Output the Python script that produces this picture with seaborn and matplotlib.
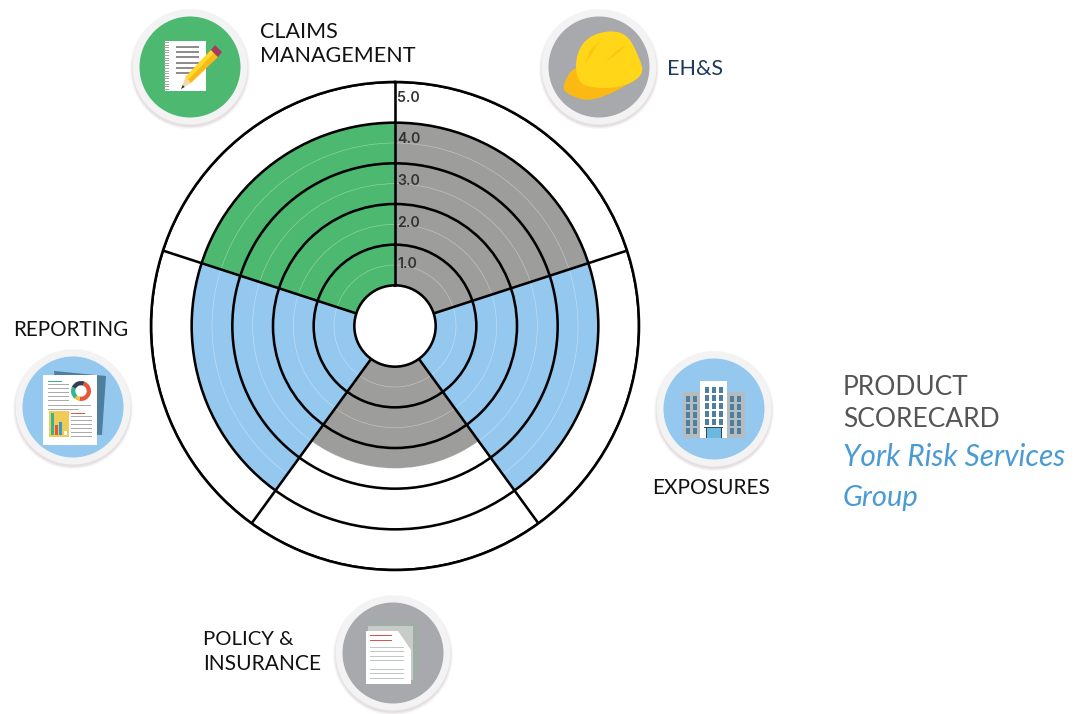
import numpy as np
import pandas as pd
import seaborn as sns
import matplotlib.pyplot as plt
from matplotlib.patches import Circle, Rectangle, Polygon, Wedge, PathPatch
from matplotlib.path import Path

# Data
sectors = ['EH&S', 'EXPOSURES', 'POLICY & INSURANCE', 'REPORTING', 'CLAIMS MANAGEMENT']
scores = [4.0, 4.0, 2.5, 4.0, 4.0]
sector_colors = ['#9D9D9C', '#95C8EE', '#9D9D9C', '#95C8EE', '#4DB86F']
ring_values = [1, 2, 3, 4, 5]
half_values = [0.5, 1.5, 2.5, 3.5]
ring_labels = ['1.0', '2.0', '3.0', '4.0', '5.0']

sns.set_theme(style='white')
plt.rcParams['font.family'] = ['Lato', 'DejaVu Sans']

W, H = 1085, 714
fig = plt.figure(figsize=(W / 100, H / 100), dpi=100)

# Polar chart: centre (395, 326), outer radius 244 px
ax = fig.add_axes([151 / W, (H - 570) / H, 488 / W, 488 / H], projection='polar')
step = 2 * np.pi / len(sectors)
df = pd.DataFrame({'sector': sectors, 'score': scores,
                   'theta': step * (np.arange(len(sectors)) + 0.5)})
sns.barplot(data=df, x='theta', y='score', hue='sector', palette=dict(zip(sectors, sector_colors)),
            native_scale=True, width=1, dodge=False, saturation=1, errorbar=None,
            legend=False, linewidth=0, ax=ax)
ax.set_theta_zero_location('N')
ax.set_theta_direction(-1)
ax.set_ylim(0, 5)
ax.set_rorigin(-1)
ax.set_xlim(0, 2 * np.pi)
ax.set_xticks(step * np.arange(len(sectors)))
ax.set_xticklabels([])
ax.set_yticks(ring_values)
ax.set_yticklabels([])
ax.set_yticks(half_values, minor=True)
ax.tick_params(axis='both', which='both', length=0)
ax.set_axisbelow(False)
ax.xaxis.set_zorder(2.6)  # spokes stay above the faint half-step rings
ax.xaxis.grid(True, color='black', lw=1.85)
ax.yaxis.grid(True, which='major', color='black', lw=1.85)
ax.yaxis.grid(True, which='minor', color='white', lw=0.45, alpha=0.4)
ax.set_xlabel('')
ax.set_ylabel('')
for s in ax.spines.values():
    s.set_color('black')
    s.set_linewidth(1.85)
ax.patch.set_alpha(0)

for v, lab in zip(ring_values, ring_labels):
    # labels drift a little lower than the rings towards the centre
    ax.annotate(lab, xy=(0, v), xytext=(1.8, -(15.5 + (5 - v) * 1.05) * 0.72), textcoords='offset points',
                fontsize=10.2, fontweight='semibold', color='#333333', ha='left', va='center',
                family=['Inter', 'DejaVu Sans'], zorder=10)

# Overlay in pixel coordinates for icons and labels
ov = fig.add_axes([0, 0, 1, 1], zorder=5)
ov.set_xlim(0, W)
ov.set_ylim(H, 0)
ov.axis('off')
ov.patch.set_alpha(0)


def badge(cx, cy, fill):
    # soft shadow, white ring, coloured disc
    for r, a in zip([60, 59, 58], [0.06, 0.08, 0.12]):
        ov.add_patch(Circle((cx, cy + 2), r, fc='#9a7f88', ec='none', alpha=a))
    ov.add_patch(Circle((cx, cy), 57.5, fc='#F3F3F4', ec='none'))
    disc = Circle((cx, cy), 50.5, fc=fill, ec='none')
    ov.add_patch(disc)
    return disc


def rect(x0, y0, x1, y1, color, clip=None):
    p = Rectangle((x0, y0), x1 - x0, y1 - y0, fc=color, ec='none')
    ov.add_patch(p)
    if clip is not None:
        p.set_clip_path(clip)
    return p


def poly(points, color, clip=None):
    p = Polygon(points, closed=True, fc=color, ec='none')
    ov.add_patch(p)
    if clip is not None:
        p.set_clip_path(clip)
    return p


def blob(points, color):
    # closed smooth outline: control points are the given ones, knots the midpoints
    pts = np.array(points, dtype=float)
    mids = (pts + np.roll(pts, -1, axis=0)) / 2
    verts = [mids[-1]]
    codes = [Path.MOVETO]
    for p, m in zip(pts, mids):
        verts += [p, m]
        codes += [Path.CURVE3, Path.CURVE3]
    ov.add_patch(PathPatch(Path(verts, codes), fc=color, ec='none'))


# Claims management icon
badge(190, 67, '#4DB86F')
rect(165, 41, 206, 91, 'white')
for y in np.arange(42, 90, 2.6):
    rect(163.5, y, 169, y + 1.1, '#A8A8A8')
for y in [47, 52, 57, 63, 68, 73]:
    rect(176, y - 0.8, 199, y + 0.8, '#8E8E8E')
poly([(181, 89), (185.5, 77), (191, 83)], '#F2D9A8')
poly([(181, 89), (182.7, 85), (184.7, 87)], '#333333')
poly([(185.5, 77), (211, 50), (218, 57), (191, 83)], '#F9B916')
poly([(185.5, 77), (211, 50), (214, 53), (188, 80)], '#FFD92B')
poly([(211, 50), (215, 45), (222, 52), (218, 57)], '#A93A5B')

# EH&S icon
badge(599, 67, '#A7A9AC')
blob([(562, 85), (577, 62), (642, 68), (637, 80), (592, 103), (566, 94)], '#FDB913')
blob([(576, 80), (576, 52), (592, 33), (625, 30), (640, 58), (644, 76), (620, 88), (590, 88)], '#FFD618')
poly([(585, 64), (590, 50), (600, 41), (593, 52)], '#F9C814')
poly([(606, 62), (616, 51), (627, 45), (617, 54)], '#F9C814')

# Reporting icon
disc = badge(73, 407, '#95C8EE')
poly([(54, 371), (106, 376), (102, 435), (60, 433)], '#4F7F9E', clip=disc)
rect(43, 375, 97, 445, 'white', clip=disc)
rect(48, 381, 62, 382, '#3DB28E')
for y in [384, 388, 392, 396, 400]:
    rect(48, y, 69, y + 0.9, '#AAAAAA')
rect(48, 405, 91, 406, '#AAAAAA')
rect(48, 409, 79, 410, '#AAAAAA')
for t1, t2, c in [(-70, 100, '#E5573A'), (100, 130, '#F4C430'),
                  (130, 205, '#35B495'), (205, 290, '#2F3E55')]:
    ov.add_patch(Wedge((81, 391), 10, t1, t2, width=4.3, fc=c, ec='none'))
rect(49, 411, 69, 437, '#F1CB58', clip=disc)
rect(51, 413, 54, 435, '#35B495')
rect(55, 425, 58, 435, '#E5573A')
rect(59, 422, 62, 435, '#2F9BD1')
rect(64, 431, 67, 435, 'white')
rect(71, 413, 85, 414, '#E5573A')
for y in [416, 420, 424, 428, 432, 436]:
    rect(71, y, 92, y + 0.9, '#AAAAAA')

# Exposures icon
badge(714, 409, '#95C8EE')
rect(683, 392, 701, 438, '#B5BCC0')
rect(727, 392, 745, 438, '#B5BCC0')
rect(700, 381, 727, 438, 'white')
for row in range(5):
    y = 387 + row * 8
    for x in [705, 712, 719]:
        rect(x, y, x + 3.6, y + 6, '#4F7F9E')
    y2 = 396 + row * 8
    for x in [686, 693, 730, 737]:
        rect(x, y2, x + 3.6, y2 + 6, '#4F7F9E')
rect(704, 427, 723, 428, '#2F4858')
rect(706, 428, 722, 438, '#6BB9E0')
rect(706, 428, 706.7, 438, '#2F4858')
rect(713.7, 428, 714.4, 438, '#2F4858')
rect(721.3, 428, 722, 438, '#2F4858')

# Policy & insurance icon
badge(393, 653, '#A7A9AC')
rect(373, 622, 419, 678, '#A3ADA8')
rect(368, 626, 413, 680, '#C8CCC9')
poly([(366, 631), (398, 631), (411, 650), (411, 684), (366, 684)], 'white')
for y in [635, 639.5]:
    rect(370, y, 392, y + 1, '#D9534F')
for y in np.arange(647, 680, 4.4):
    rect(370, y, 404, y + 0.9, '#BFC7C2')

# Labels
lab = dict(color='#111111', ha='left', va='baseline')
ov.text(260, 38, 'CLAIMS', fontsize=15.5, **lab)
ov.text(260, 62, 'MANAGEMENT', fontsize=15.5, **lab)
ov.text(667, 75, 'EH&S', fontsize=15.5, color='#1F3A5F', ha='left', va='baseline')
ov.text(13, 336, 'REPORTING', fontsize=14.9, **lab)
ov.text(652, 494, 'EXPOSURES', fontsize=15, **lab)
ov.text(203, 645, 'POLICY &', fontsize=14.6, **lab)
ov.text(203, 670, 'INSURANCE', fontsize=15.1, **lab)

ov.text(843, 395, 'PRODUCT', fontsize=19, color='#555555', ha='left', va='baseline')
ov.text(843, 427, 'SCORECARD', fontsize=19, color='#555555', ha='left', va='baseline')
ov.text(843, 466, 'York Risk Services', fontsize=21.5, style='italic', color='#4A9BD4', ha='left', va='baseline')
ov.text(843, 506, 'Group', fontsize=21, style='italic', color='#4A9BD4', ha='left', va='baseline')

fig.savefig('out.png', dpi=100, facecolor='white')
